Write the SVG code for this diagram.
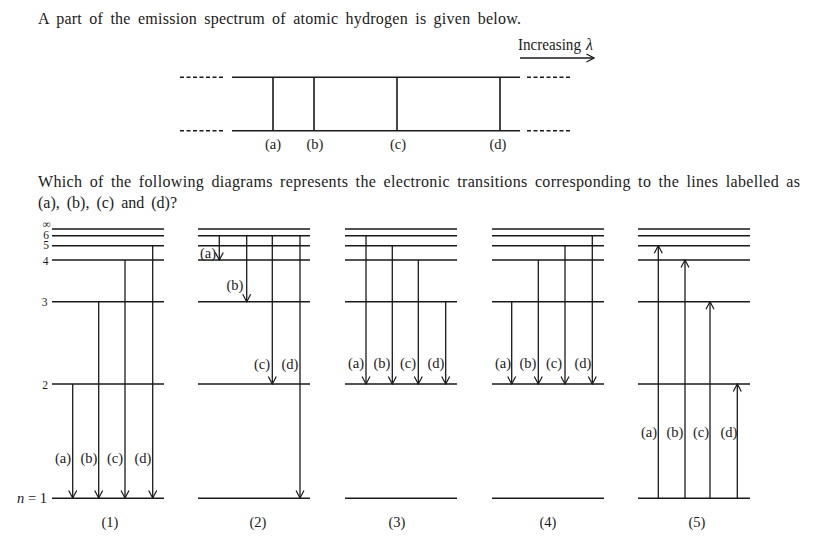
<svg xmlns="http://www.w3.org/2000/svg" width="830" height="539" viewBox="0 0 830 539">
<defs>
<style>
text{font-family:"Liberation Serif","Times New Roman",serif;fill:#1a1a1a}
.t{font-size:16px;word-spacing:3px}
.lb{font-size:14.5px;text-anchor:middle}
.lv{font-size:11.5px;text-anchor:middle}
.lvl{stroke:#1a1a1a;stroke-width:1.5;fill:none}
.ar{stroke:#1a1a1a;stroke-width:1.3;fill:none;marker-end:url(#ah)}
.sp{stroke:#1a1a1a;stroke-width:1.6;fill:none}
.dash{stroke:#1a1a1a;stroke-width:1.4;stroke-dasharray:4 2.5;fill:none}
</style>
<marker id="ah" viewBox="-9 -5 10 10" markerWidth="10" markerHeight="10" refX="0" refY="0" orient="auto" markerUnits="userSpaceOnUse">
<path d="M-7.5,-4 L0,0 L-7.5,4" fill="none" stroke="#1a1a1a" stroke-width="1.2"/>
</marker>
<g id="levels">
<path d="M0,229 H112 M0,235.7 H112 M0,245.7 H112 M0,260 H112 M0,301.7 H112 M0,384 H112 M0,498.3 H112"/>
</g>
</defs>

<g id="title">
<text class="t" x="38" y="23.5" textLength="483" lengthAdjust="spacing">A part of the emission spectrum of atomic hydrogen is given below.</text>
</g>

<g id="spectrum">
<text x="518" y="50" font-size="16.5" textLength="63" lengthAdjust="spacingAndGlyphs">Increasing</text>
<text x="586" y="50" font-size="16" font-style="italic">λ</text>
<path class="sp" d="M520,58 H594" style="marker-end:url(#ah)"/>
<path class="dash" d="M180,77.3 H224 M180,130.7 H224 M527,77.3 H572 M527,130.7 H572"/>
<path class="sp" d="M232,77.3 H520 M232,130.7 H520"/>
<path class="sp" d="M273,77.3 V130.7 M314,77.3 V130.7 M397,77.3 V130.7 M500,77.3 V130.7"/>
<text class="lb" x="273" y="149">(a)</text>
<text class="lb" x="315" y="149">(b)</text>
<text class="lb" x="398" y="149">(c)</text>
<text class="lb" x="498" y="149">(d)</text>
</g>

<g id="question">
<text class="t" x="38" y="187" textLength="762" lengthAdjust="spacing">Which of the following diagrams represents the electronic transitions corresponding to the lines labelled as</text>
<text class="t" x="38" y="207.5" textLength="139" lengthAdjust="spacing">(a), (b), (c) and (d)?</text>
</g>

<g id="diagram1">
<use href="#levels" x="52" class="lvl"/>
<text class="lv" x="46.5" y="227.6" font-size="9.5">∞</text>
<text class="lv" x="46" y="238.8" font-size="9.5">6</text>
<text class="lv" x="46" y="249.2" font-size="9.5">5</text>
<text class="lv" x="45.5" y="264.5">4</text>
<text class="lv" x="44.5" y="306">3</text>
<text class="lv" x="45" y="388.5">2</text>
<text x="17" y="503" font-size="14.5" textLength="30" lengthAdjust="spacing"><tspan font-style="italic">n</tspan>=1</text>
<text class="lb" x="63" y="463">(a)</text>
<text class="lb" x="89" y="463">(b)</text>
<text class="lb" x="115" y="463">(c)</text>
<text class="lb" x="143" y="463">(d)</text>
<text class="lb" x="110" y="527">(1)</text>
</g>

<g id="diagram2">
<use href="#levels" x="198" class="lvl"/>
<text class="lb" x="208" y="258">(a)</text>
<text class="lb" x="235" y="290">(b)</text>
<text class="lb" x="262" y="369">(c)</text>
<text class="lb" x="290" y="369">(d)</text>
<text class="lb" x="258" y="527">(2)</text>
</g>

<g id="diagram3">
<use href="#levels" x="345" class="lvl"/>
<text class="lb" x="356" y="368">(a)</text>
<text class="lb" x="382" y="368">(b)</text>
<text class="lb" x="408" y="368">(c)</text>
<text class="lb" x="436" y="368">(d)</text>
<text class="lb" x="397" y="527">(3)</text>
</g>

<g id="diagram4">
<use href="#levels" x="492" class="lvl"/>
<text class="lb" x="503" y="368">(a)</text>
<text class="lb" x="528" y="368">(b)</text>
<text class="lb" x="554" y="368">(c)</text>
<text class="lb" x="583" y="368">(d)</text>
<text class="lb" x="548" y="527">(4)</text>
</g>

<g id="diagram5">
<use href="#levels" x="638" class="lvl"/>
<text class="lb" x="649" y="437">(a)</text>
<text class="lb" x="675" y="437">(b)</text>
<text class="lb" x="701" y="437">(c)</text>
<text class="lb" x="729" y="437">(d)</text>
<text class="lb" x="697" y="527">(5)</text>
</g>

<g id="connectors">
<path class="ar" d="M72.7,384 V498"/>
<path class="ar" d="M98.7,301.7 V498"/>
<path class="ar" d="M125,260 V498"/>
<path class="ar" d="M152.7,245.7 V498"/>

<path class="ar" d="M219.3,235.7 V260"/>
<path class="ar" d="M246.7,235.7 V301.7"/>
<path class="ar" d="M272.3,235.7 V384"/>
<path class="ar" d="M300,235.7 V498"/>

<path class="ar" d="M366,235.7 V384"/>
<path class="ar" d="M392.3,245.7 V384"/>
<path class="ar" d="M418.3,260 V384"/>
<path class="ar" d="M445.7,301.7 V384"/>

<path class="ar" d="M511.7,301.7 V384"/>
<path class="ar" d="M538.3,260 V384"/>
<path class="ar" d="M565,245.7 V384"/>
<path class="ar" d="M592.3,235.7 V384"/>

<path class="ar" d="M658.3,498.3 V245.7"/>
<path class="ar" d="M685,498.3 V260"/>
<path class="ar" d="M710,498.3 V301.7"/>
<path class="ar" d="M737.3,498.3 V384"/>
</g>
</svg>
